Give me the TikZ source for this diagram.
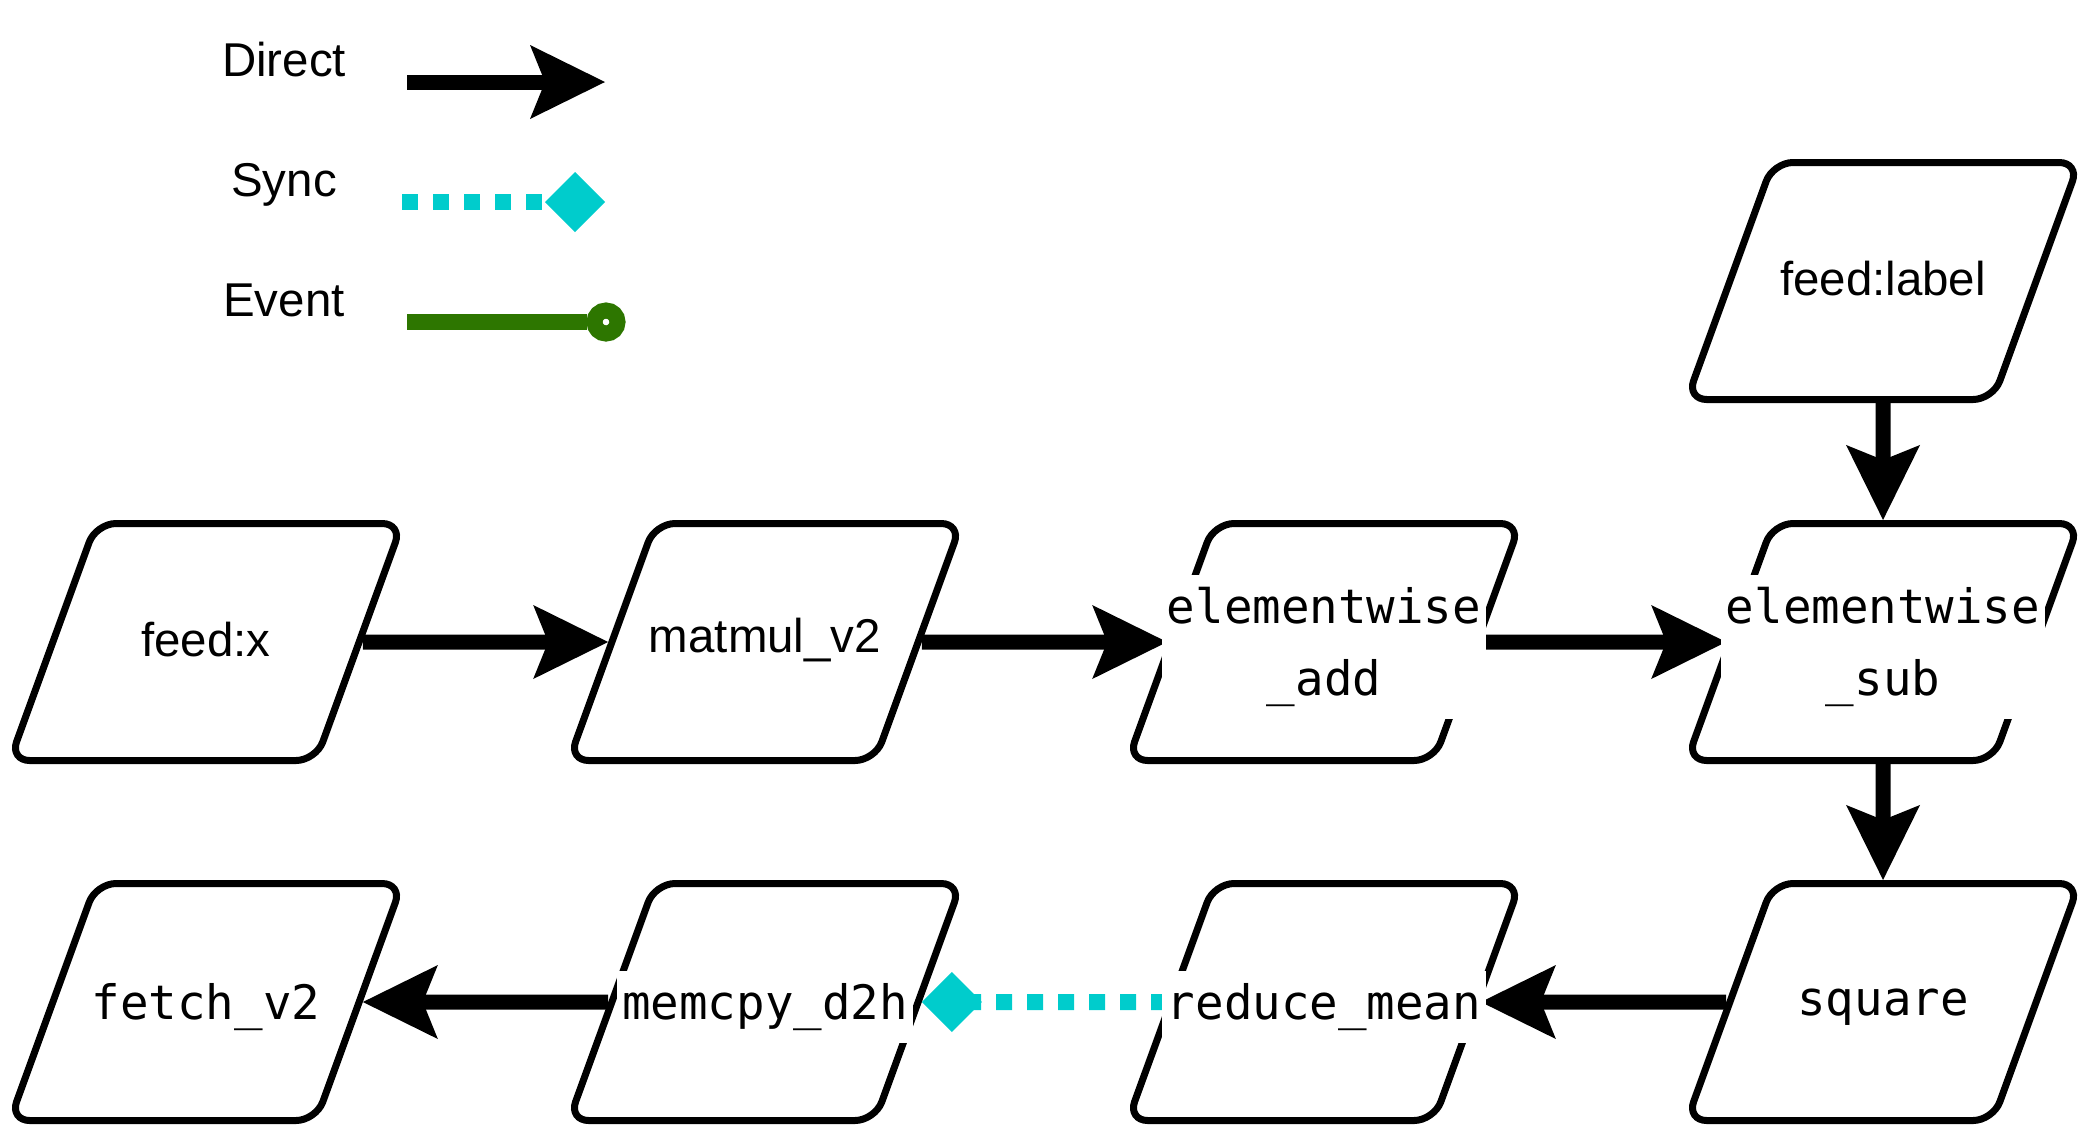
\documentclass[tikz,border=0pt]{standalone}
\usepackage{fontspec}
\setmainfont{Liberation Sans}
\setmonofont{DejaVu Sans Mono}
\usepackage{tikz}
\usetikzlibrary{shapes.geometric, positioning, arrows.meta}
\definecolor{synccyan}{HTML}{00CCCC}
\definecolor{eventgreen}{HTML}{2D7600}
\tikzset{
  node distance=5.59cm,
  op/.style={trapezium, trapezium left angle=70, trapezium right angle=110,
    draw, line width=0.07cm, rounded corners=0.2cm, fill=white, inner sep=0pt,
    text width=2.2cm, text height=2.37cm, text depth=0pt},
  labelbox/.style={fill=white, inner xsep=0.05cm, inner ysep=0.12cm, align=center},
  optext/.style={labelbox, yshift=-0.05cm,
    font=\ttfamily\fontsize{13.5pt}{20.5pt}\selectfont},
  feedtext/.style={labelbox, yshift=0.02cm,
    font=\fontsize{13.5pt}{20.5pt}\selectfont},
  direct/.style={line width=0.15cm,
    -{Stealth[length=0.75cm, width=0.74cm, inset=0.15cm, line width=0pt]}},
  sync/.style={synccyan, line width=0.16cm, dash pattern=on 0.16cm off 0.15cm,
    -{Turned Square[length=0.6cm, width=0.6cm, line width=0pt]}},
  event/.style={eventgreen, line width=0.16cm},
  legend/.style={anchor=base, font=\fontsize{13.5pt}{20.5pt}\selectfont},
}

\begin{document}
\begin{tikzpicture}
  \useasboundingbox (0,0) rectangle (20.88,-11.28);

  % legend
  \node[legend] (lg-direct) at (2.84,-0.76) {Direct};
  \node[legend] (lg-sync)   at (2.84,-1.96) {Sync};
  \node[legend] (lg-event)  at (2.84,-3.16) {Event};
  \coordinate (d0) at (4.07,-0.82);
  \coordinate (d1) at (6.05,-0.82);
  \coordinate (s0) at (4.02,-2.02);
  \coordinate (s1) at (6.05,-2.02);
  \coordinate (e0) at (4.07,-3.22);
  \node[circle, draw=eventgreen, line width=0.16cm, fill=white,
        minimum size=0.23cm, inner sep=0pt] (e1) at (6.06,-3.22) {};
  \draw[direct] (d0) -- (d1);
  \draw[sync]   (s0) -- (s1);
  \draw[event]  (e0) -- (e1);

  % ops
  \node[op] (x) at (2.06,-6.42) {};
  \node[op, right of=x]   (mm)  {};
  \node[op, right of=mm]  (add) {};
  \node[op, right of=add] (sub) {};
  \node[op, node distance=3.61cm, above of=sub] (label) {};
  \node[op, node distance=3.6cm, below of=sub]  (sq)    {};
  \node[op, left of=sq]   (red)   {};
  \node[op, left of=red]  (mem)   {};
  \node[op, left of=mem]  (fetch) {};

  \draw[direct] (x)     -- (mm);
  \draw[direct] (mm)    -- (add);
  \draw[direct] (add)   -- (sub);
  \draw[direct] (label) -- (sub);
  \draw[direct] (sub)   -- (sq);
  \draw[direct] (sq)    -- (red);
  \draw[direct] (mem)   -- (fetch);
  \draw[sync]   (red)   -- (mem);

  % texts on top
  \node[feedtext] (x-t)     at (x)     {feed:x};
  \node[feedtext] (mm-t)    at (mm)    {matmul\_v2};
  \node[optext]   (add-t)   at (add)   {elementwise\\\_add};
  \node[optext]   (sub-t)   at (sub)   {elementwise\\\_sub};
  \node[feedtext] (label-t) at (label) {feed:label};
  \node[optext]   (sq-t)    at (sq)    {square};
  \node[optext]   (red-t)   at (red)   {reduce\_mean};
  \node[optext]   (mem-t)   at (mem)   {memcpy\_d2h};
  \node[optext]   (fetch-t) at (fetch) {fetch\_v2};
\end{tikzpicture}
\end{document}
